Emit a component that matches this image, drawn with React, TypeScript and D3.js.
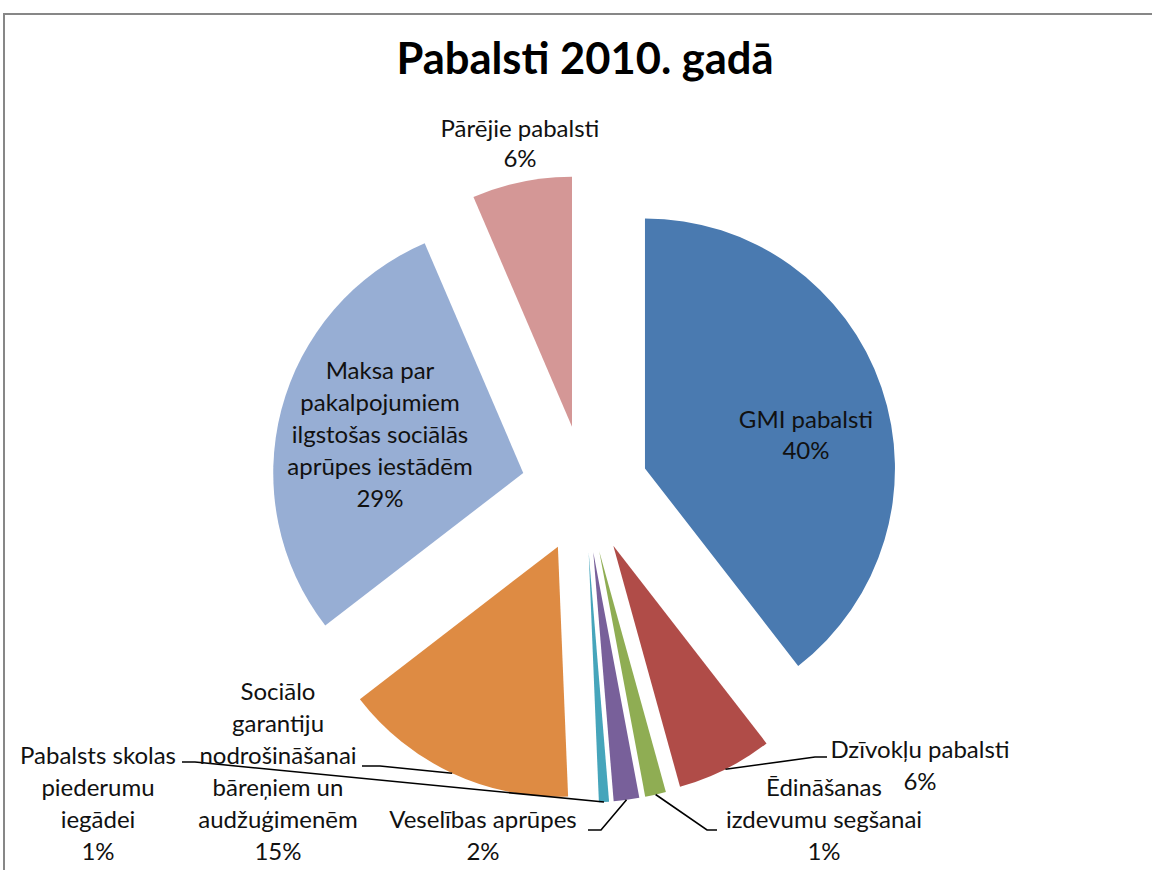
import React, { useEffect, useRef } from 'react';
import * as d3 from 'd3';

// slices, clockwise from 12 o'clock
const categories = [
  'GMI pabalsti',
  'Dzīvokļu pabalsti',
  'Ēdināšanas izdevumu segšanai',
  'Veselības aprūpes',
  'Pabalsts skolas piederumu iegādei',
  'Sociālo garantiju nodrošināšanai bāreņiem un audžuģimenēm',
  'Maksa par pakalpojumiem ilgstošas sociālās aprūpes iestādēm',
  'Pārējie pabalsti',
];
const shares = [39.5, 6.2, 1.35, 1.65, 0.65, 15.2, 29.0, 6.45];
const colors = ['#4a7ab0', '#b04c48', '#8fad53', '#78609a', '#46a5bb', '#de8b43', '#97aed4', '#d49796'];

// how each label is broken into lines (the % line is added from the data)
const labelLines = [
  ['GMI pabalsti'],
  ['Dzīvokļu pabalsti'],
  ['Ēdināšanas', 'izdevumu segšanai'],
  ['Veselības aprūpes'],
  ['Pabalsts skolas', 'piederumu', 'iegādei'],
  ['Sociālo', 'garantiju', 'nodrošināšanai', 'bāreņiem un', 'audžuģimenēm'],
  ['Maksa par', 'pakalpojumiem', 'ilgstošas sociālās', 'aprūpes iestādēm'],
  ['Pārējie pabalsti'],
];

// label placement (manual, like in the original sheet): centre x, first baseline, leader elbow + end
const labelLayout = [
  { x: 806, y: 428, lh: 31 },
  { x: 920, y: 758, lh: 32, leader: [[815, 757], [827, 757]] },
  { x: 824, y: 796, lh: 32, leader: [[707, 830], [717, 830]] },
  { x: 483, y: 828, lh: 32, leader: [[601, 830], [588, 830]] },
  { x: 98, y: 764, lh: 32, leader: [[195, 762], [182, 762]] },
  { x: 278, y: 700, lh: 32, leader: [[380, 766], [362, 766]] },
  { x: 380, y: 379, lh: 32 },
  { x: 520, y: 137, lh: 30 },
] as { x: number; y: number; lh: number; leader?: number[][] }[];

const W = 1152;
const H = 870;

export default function App() {
  const svgRef = useRef<SVGSVGElement>(null);

  useEffect(() => {
    if (!svgRef.current) return;
    const svg = d3.select(svgRef.current);
    svg.selectAll('*').remove();

    // chart frame
    svg.append('rect')
      .attr('x', 4).attr('y', 14)
      .attr('width', W + 20).attr('height', H + 20)
      .attr('fill', '#fff')
      .attr('stroke', '#878787')
      .attr('stroke-width', 2);

    svg.append('text')
      .attr('x', 585).attr('y', 74)
      .attr('text-anchor', 'middle')
      .style('font-family', 'Lato, sans-serif')
      .style('font-weight', 'bold')
      .style('font-size', '43.5px')
      .text('Pabalsti 2010. gadā');

    const cx = 584.8, cy = 489;
    const radius = 250;
    const explode = 63.6;

    const pie = d3.pie<number>().sort(null).value(d => d);
    const arcs = pie(shares);
    const arc = d3.arc<d3.PieArcDatum<number>>().innerRadius(0).outerRadius(radius);
    const total = d3.sum(shares);

    const g = svg.append('g').attr('transform', `translate(${cx},${cy})`);

    const dir = (a: d3.PieArcDatum<number>) => {
      const m = (a.startAngle + a.endAngle) / 2;
      return [Math.sin(m), -Math.cos(m)];
    };

    g.selectAll('path.slice')
      .data(arcs)
      .join('path')
      .attr('class', 'slice')
      .attr('d', arc)
      .attr('fill', (d, i) => colors[i])
      .attr('transform', d => {
        const [dx, dy] = dir(d);
        return `translate(${dx * explode},${dy * explode})`;
      });

    // leader lines
    arcs.forEach((d, i) => {
      const lay = labelLayout[i];
      if (!lay.leader) return;
      const [dx, dy] = dir(d);
      const start: [number, number] = [cx + dx * (explode + radius), cy + dy * (explode + radius)];
      const pts = [start, ...lay.leader.map(p => [p[0], p[1]] as [number, number])];
      svg.append('path')
        .attr('d', d3.line()(pts))
        .attr('fill', 'none')
        .attr('stroke', '#000')
        .attr('stroke-width', 1.6);
    });

    // data labels
    arcs.forEach((d, i) => {
      const lay = labelLayout[i];
      const lines = [...labelLines[i], `${Math.round((shares[i] / total) * 100)}%`];
      const t = svg.append('text')
        .attr('text-anchor', 'middle')
        .style('font-family', 'Lato, sans-serif')
        .style('font-size', '24px')
        .attr('fill', '#111');
      lines.forEach((ln, k) => {
        t.append('tspan').attr('x', lay.x).attr('y', lay.y + k * lay.lh).text(ln);
      });
    });
  }, []);

  return (
    <svg ref={svgRef} width={W} height={H}
      style={{ position: 'absolute', left: 0, top: 0, background: '#fff' }} />
  );
}
